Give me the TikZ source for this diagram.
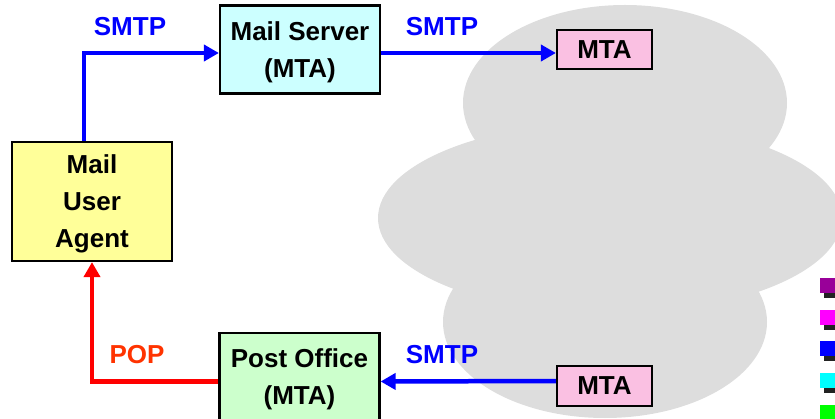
\documentclass[tikz,border=0pt]{standalone}
\usepackage{fontspec}
\setmainfont{Liberation Sans}
\usetikzlibrary{arrows.meta}
\definecolor{cloudgray}{HTML}{DDDDDD}
\definecolor{muafill}{HTML}{FFFF99}
\definecolor{srvfill}{HTML}{CCFFFF}
\definecolor{pofill}{HTML}{CCFFCC}
\definecolor{mtafill}{HTML}{FAC0E2}
\definecolor{smtpblue}{HTML}{0000FF}
\definecolor{popred}{HTML}{FF0000}
\definecolor{poptext}{HTML}{FF3300}
\definecolor{shadowgray}{HTML}{222222}
\newcommand{\topstrut}{\rule{0pt}{24pt}}
\begin{document}
\begin{tikzpicture}[x=1pt,y=-1pt,
  box/.style={draw=black, line width=2.2pt, inner sep=0pt, align=center,
              font=\bfseries\fontsize{26}{37}\selectfont},
  link/.style={line width=4.5pt, -{Triangle[length=15pt,width=16pt]}},
  lbl/.style={font=\bfseries\fontsize{26}{30}\selectfont, inner sep=0pt}]
\useasboundingbox (0,0) rectangle (835,419);
\clip (0,0) rectangle (835,419);

% internet cloud
\fill[cloudgray] (625,103) ellipse [x radius=162, y radius=98];
\fill[cloudgray] (610,218) ellipse [x radius=232, y radius=96];
\fill[cloudgray] (605,322) ellipse [x radius=162, y radius=96];

% agents
\node[box, fill=muafill, minimum width=160pt, minimum height=119pt] (mua) at (92,201.5) {\topstrut Mail\\User\\Agent};
\node[box, fill=srvfill, minimum width=160pt, minimum height=88pt] (ms) at (300,49.5) {\topstrut Mail Server\\(MTA)};
\node[box, fill=pofill, minimum width=160pt, minimum height=88pt] (po) at (299.5,377) {\topstrut Post Office\\(MTA)};
\node[box, fill=mtafill, minimum width=95pt, minimum height=39pt] (mtaA) at (604.5,49.5) {MTA};
\node[box, fill=mtafill, minimum width=95pt, minimum height=40pt] (mtaB) at (604.5,386) {MTA};

% connections
\draw[link, smtpblue] ([xshift=-8pt]mua.north) |- ([yshift=-3.5pt]ms.west);
\draw[link, smtpblue] ([yshift=-3.5pt]ms.east) -- ([yshift=-3.5pt]mtaA.west);
\draw[link, smtpblue] ([yshift=5pt]mtaB.west) -- ([yshift=-4.5pt]po.east);
\draw[link, popred] ([yshift=-4.5pt]po.west) -| (mua.south);

% protocol labels
\node[lbl, text=smtpblue] (l1) at (130,27) {SMTP};
\node[lbl, text=smtpblue] (l2) at (442,27) {SMTP};
\node[lbl, text=smtpblue] (l3) at (442,355) {SMTP};
\node[lbl, text=poptext] (l4) at (137,355) {POP};

% colour legend
\foreach \c/\y in {990099/278, FF00FF/310, 0000FF/341, 00FFFF/373, 00FF00/405}{
  \definecolor{legc}{HTML}{\c}
  \fill[shadowgray] (824,\y+5) rectangle (840,\y+20);
  \fill[legc] (820,\y) rectangle (836,\y+15);
}
\end{tikzpicture}
\end{document}
